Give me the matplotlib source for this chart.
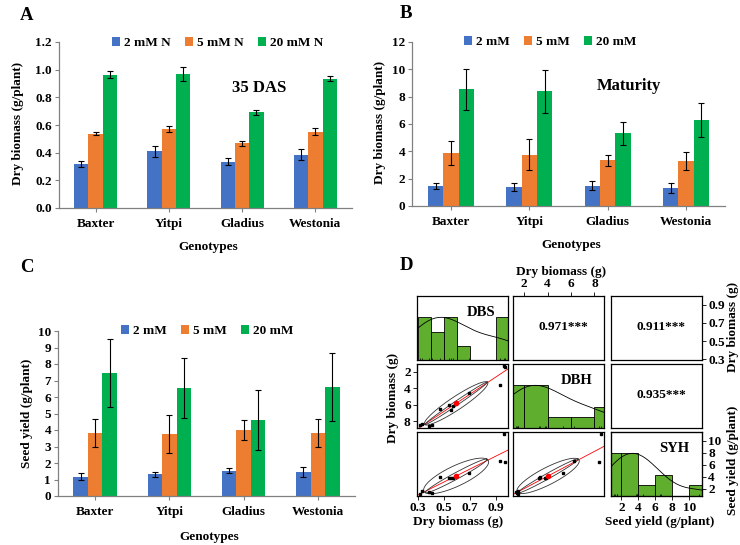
import numpy as np
import matplotlib.pyplot as plt

plt.rcParams['font.family'] = ['Liberation Serif', 'DejaVu Serif']
plt.rcParams['font.weight'] = 'bold'

# --- data: bar panels ---
genotypes = ["Baxter", "Yitpi", "Gladius", "Westonia"]
colors = ["#4472C4", "#ED7D31", "#00B050"]

# A: dry biomass at 35 DAS (g/plant)
a_labels = ["2 mM N", "5 mM N", "20 mM N"]
a_vals = [[0.32, 0.41, 0.336, 0.384],
          [0.538, 0.573, 0.469, 0.553],
          [0.963, 0.968, 0.692, 0.935]]
a_errs = [[0.02, 0.038, 0.022, 0.04],
          [0.012, 0.022, 0.018, 0.022],
          [0.025, 0.05, 0.02, 0.02]]

# B: dry biomass at maturity (g/plant)
b_labels = ["2 mM", "5 mM", "20 mM"]
b_vals = [[1.45, 1.38, 1.5, 1.33],
          [3.88, 3.76, 3.33, 3.28],
          [8.53, 8.41, 5.32, 6.27]]
b_errs = [[0.24, 0.3, 0.3, 0.37],
          [0.87, 1.12, 0.42, 0.68],
          [1.52, 1.57, 0.82, 1.24]]

# C: seed yield (g/plant)
c_labels = ["2 mM", "5 mM", "20 mM"]
c_vals = [[1.18, 1.31, 1.54, 1.47],
          [3.8, 3.75, 4.0, 3.8],
          [7.46, 6.52, 4.6, 6.62]]
c_errs = [[0.21, 0.17, 0.13, 0.3],
          [0.84, 1.15, 0.63, 0.86],
          [2.05, 1.82, 1.83, 2.05]]

# --- data: panel D (12 genotype x N means) ---
d_dbs = [0.32, 0.538, 0.963, 0.41, 0.573, 0.968, 0.336, 0.469, 0.692, 0.384, 0.553, 0.935]
d_dbh = [1.45, 3.88, 8.53, 1.38, 3.76, 8.41, 1.5, 3.33, 5.32, 1.33, 3.28, 6.27]
d_syh = [1.18, 3.8, 11.1, 1.31, 3.75, 6.52, 1.54, 4.0, 4.6, 1.47, 3.8, 6.62]
d_names = ["DBS", "DBH", "SYH"]
d_corr = {(0, 1): "0.971***", (0, 2): "0.911***", (1, 2): "0.935***"}
d_bins = [np.arange(0.3, 1.05, 0.1), np.arange(0, 11, 2), np.arange(0, 13, 2)]

W, H = 740, 545
fig = plt.figure(figsize=(W / 100, H / 100), dpi=100)


def px_axes(l, t, r, b):
    return fig.add_axes([l / W, 1 - b / H, (r - l) / W, (b - t) / H])


def ftext(x, y, s, **kw):
    fig.text(x / W, 1 - y / H, s, ha='center', va='center', **kw)


def bar_panel(box, vals, errs, labels, ymax, step, fmt, ylabel, ylab_xy,
              note, note_xy, leg_xy, xlab_y):
    ax = px_axes(*box)
    x = np.arange(len(genotypes))
    w = 0.195
    for i in range(3):
        ax.bar(x + (i - 1) * w, vals[i], w, color=colors[i], label=labels[i],
               yerr=errs[i], error_kw=dict(ecolor='black', elinewidth=0.8,
                                           capsize=2.2, capthick=0.8))
    ax.set_xlim(-0.5, 3.5)
    ax.set_ylim(0, ymax)
    ticks = np.arange(0, ymax + step / 2, step)
    ax.set_yticks(ticks)
    ax.set_yticklabels([fmt.format(t) for t in ticks])
    ax.set_xticks(x)
    ax.set_xticklabels(genotypes)
    for s in ['top', 'right']:
        ax.spines[s].set_visible(False)
    for s in ['left', 'bottom']:
        ax.spines[s].set_color('#808080')
        ax.spines[s].set_linewidth(0.9)
    ax.tick_params(axis='y', labelsize=9.5, length=3, color='#808080', pad=2)
    ax.tick_params(axis='x', labelsize=9.5, length=3, color='#808080', pad=4)
    ax.legend(loc='center', bbox_to_anchor=(leg_xy[0] / W, 1 - leg_xy[1] / H),
              bbox_transform=fig.transFigure, ncol=3, frameon=False,
              handlelength=0.6, handleheight=0.6, handletextpad=0.3,
              columnspacing=1.1, fontsize=9.5, borderaxespad=0)
    ftext(ylab_xy[0], ylab_xy[1], ylabel, rotation=90, fontsize=9.5)
    ftext((box[0] + box[2]) / 2 + 3, xlab_y, "Genotypes", fontsize=9.5)
    ftext(note_xy[0], note_xy[1], note, fontsize=12)
    return ax


bar_panel((59, 42, 352, 208), a_vals, a_errs, a_labels, 1.2, 0.2, "{:.1f}",
          "Dry biomass (g/plant)", (18, 123), "35 DAS", (259, 88), (218, 43), 247)
bar_panel((412, 42, 725, 206), b_vals, b_errs, b_labels, 12, 2, "{:.0f}",
          "Dry biomass (g/plant)", (380, 122), "Maturity", (629, 86), (550, 42), 245)
bar_panel((58, 331, 355, 496), c_vals, c_errs, c_labels, 10, 1, "{:.0f}",
          "Seed yield (g/plant)", (27, 413), "", (0, 0), (207, 331), 537)

for lab, xy in zip("ABCD", [(27, 15), (406, 13), (27, 267), (406, 266)]):
    ftext(xy[0], xy[1], lab, fontsize=13.5)

# --- panel D: scatterplot matrix ---
d_vars = [np.array(d_dbs), np.array(d_dbh), np.array(d_syh)]


def lims(v):
    span = v.max() - v.min()
    return v.min() - 0.04 * span, v.max() + 0.04 * span


def bw_nrd(v):
    q1, q3 = np.quantile(v, [0.25, 0.75])
    return 1.06 * min(np.std(v, ddof=1), (q3 - q1) / 1.34) * len(v) ** -0.2


def ellipse(x, y, k=1.0):
    xm, ym = x.mean(), y.mean()
    xs, ys = np.std(x, ddof=1), np.std(y, ddof=1)
    r = np.corrcoef(x, y)[0, 1]
    t = np.linspace(0, 2 * np.pi, 80)
    circ = np.column_stack([np.cos(t), np.sin(t)])
    th = np.sign(r) / np.sqrt(2)
    shape = np.diag([np.sqrt(1 + r), k * np.sqrt(1 - r)]) @ np.array([[th, th], [-th, th]])
    e = circ @ shape
    return e[:, 0] * xs + xm, e[:, 1] * ys + ym


col_x = [417, 513, 611]
row_y = [296, 364, 432]
cw, rh = 91, 64
tick_kw = dict(labelsize=9.5, length=3, width=0.6, pad=1.5)
axs = {}
for i in range(3):
    for j in range(3):
        ax = px_axes(col_x[j], row_y[i], col_x[j] + cw, row_y[i] + rh)
        axs[i, j] = ax
        ax.set_xlim(*lims(d_vars[j]))
        ax.set_xticks([])
        ax.set_yticks([])
        for s in ax.spines.values():
            s.set_linewidth(0.9)
        if i == j:
            v = d_vars[i]
            b = d_bins[i]
            idx = np.clip(np.searchsorted(b, v, side='left') - 1, 0, None)
            counts = np.bincount(idx, minlength=len(b) - 1)[:len(b) - 1]
            ax.bar(b[:-1], counts / counts.max(), width=np.diff(b), align='edge',
                   color='#5FAE2E', edgecolor='black', linewidth=0.6)
            h = bw_nrd(v) * 1.2
            gx = np.linspace(v.min() - 3 * h, v.max() + 3 * h, 300)
            gy = np.exp(-0.5 * ((gx[:, None] - v[None, :]) / h) ** 2).sum(axis=1)
            ax.plot(gx, gy / gy.max(), color='black', lw=0.6)
            ax.vlines(v, 0, 0.045, color='black', lw=0.5)
            ax.set_ylim(0, 1.5)
            ax.text(0.7, 0.74, d_names[i], transform=ax.transAxes, ha='center',
                    va='center', fontsize=10.5)
        elif i < j:
            ax.set_ylim(*lims(d_vars[i]))
            ax.text(0.55, 0.52, d_corr[i, j], transform=ax.transAxes, ha='center',
                    va='center', fontsize=9.5)
        else:
            x, y = d_vars[j], d_vars[i]
            ax.set_ylim(*lims(y))
            xl = np.array(ax.get_xlim())
            sl, ic = np.polyfit(x, y, 1)
            ax.plot(xl, sl * xl + ic, color='red', lw=0.6)
            ex, ey = ellipse(x, y, 1.6)
            ax.plot(ex, ey, color='#333333', lw=0.6)
            ex, ey = ellipse(x, y, 0.5)
            ax.plot(ex, ey, color='#333333', lw=0.6)
            ax.plot(x, y, 's', color='black', ms=1.6)
            ax.plot(x.mean(), y.mean(), 'o', color='red', ms=3)

# axes drawn on the outer edges of the matrix
ax = axs[0, 1]
ax.xaxis.tick_top()
ax.set_xticks([2, 4, 6, 8])
ax.tick_params(axis='x', **tick_kw)

ax = axs[0, 2]
ax.yaxis.tick_right()
ax.set_yticks([0.3, 0.5, 0.7, 0.9])
ax.set_yticklabels(["0.3", "0.5", "0.7", "0.9"])
ax.tick_params(axis='y', **tick_kw)

ax = axs[1, 0]
lo, hi = ax.get_ylim()
sec = ax.secondary_yaxis('left', functions=(lambda v: lo + hi - v, lambda v: lo + hi - v))
sec.set_yticks([2, 4, 6, 8])
sec.tick_params(axis='y', **tick_kw)

ax = axs[2, 0]
ax.set_xticks([0.3, 0.5, 0.7, 0.9])
ax.set_xticklabels(["0.3", "0.5", "0.7", "0.9"])
ax.tick_params(axis='x', **tick_kw)

ax = axs[2, 2]
ax.set_xticks([2, 4, 6, 8, 10])
ax.tick_params(axis='x', **tick_kw)
tw = ax.twinx()
tw.set_ylim(*lims(d_vars[2]))
tw.set_yticks([2, 4, 6, 8, 10])
tw.tick_params(axis='y', **tick_kw)

ftext(561, 272, "Dry biomass (g)", fontsize=9.5)
ftext(393, 398, "Dry biomass (g)", fontsize=9.5, rotation=90)
ftext(733, 327, "Dry biomass (g)", fontsize=9.5, rotation=90)
ftext(733, 460, "Seed yield (g/plant)", fontsize=9.5, rotation=90)
ftext(458, 522, "Dry biomass (g)", fontsize=9.5)
ftext(660, 522, "Seed yield (g/plant)", fontsize=9.5)

fig.savefig("out.png", dpi=100)
